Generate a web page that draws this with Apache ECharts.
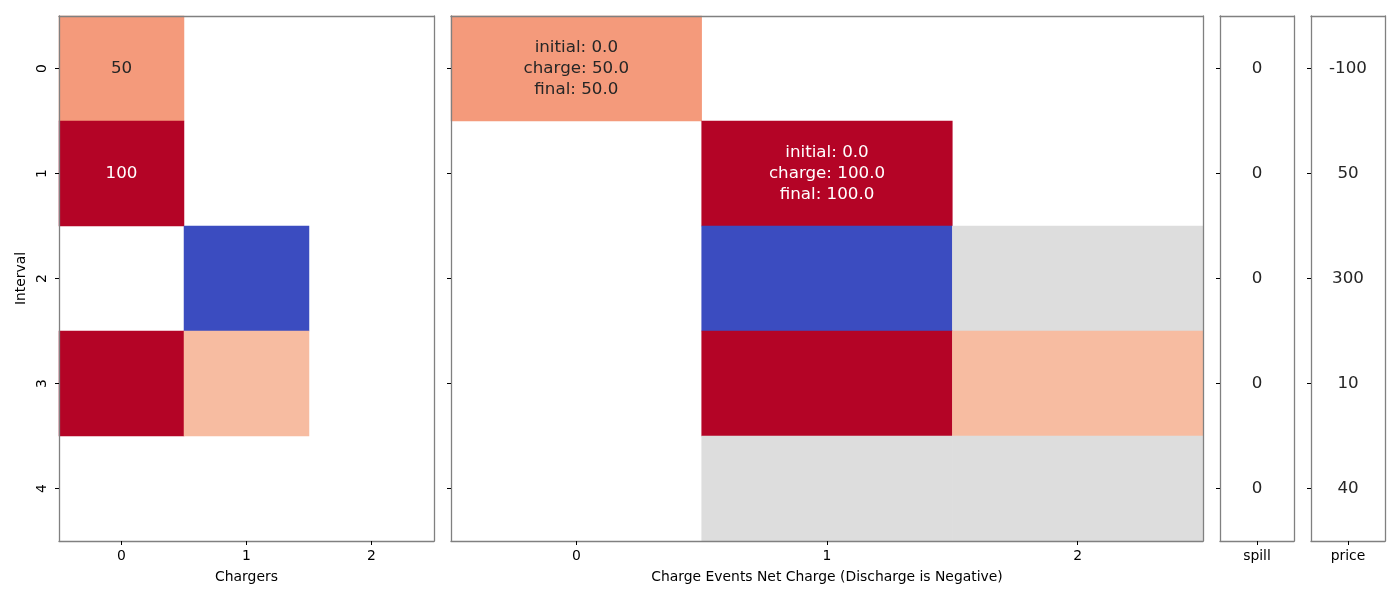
<!DOCTYPE html>
<html>
<head>
<meta charset="utf-8">
<script src="https://cdn.jsdelivr.net/npm/echarts@6/dist/echarts.min.js"></script>
<style>html,body{margin:0;padding:0;background:#fff}#c{width:1400px;height:600px}</style>
</head>
<body>
<div id="c"></div>
<script>
const chargerCats = ['0', '1', '2'];
const eventCats = ['0', '1', '2'];
const intervals = ['0', '1', '2', '3', '4'];
const chargerValues = [[0, 0, 50], [0, 1, 100], [1, 2, -100], [0, 3, 100], [1, 3, 25]];
const chargerLabels = ['50', '100', '', '', ''];
const eventValues = [[0, 0, 50], [1, 1, 100], [1, 2, -100], [2, 2, 0], [1, 3, 100], [2, 3, 25], [1, 4, 0], [2, 4, 0]];
const eventLabels = ['initial: 0.0\ncharge: 50.0\nfinal: 50.0', 'initial: 0.0\ncharge: 100.0\nfinal: 100.0', '', '', '', '', '', ''];
const spillValues = [0, 0, 0, 0, 0];
const priceValues = [-100, 50, 300, 10, 40];
const coolwarm = ['#3b4cc0', '#6788ee', '#9abbff', '#c9d7f0', '#dddddd', '#f7bca1', '#f49a7b', '#e0654f', '#b40426'];

const FONT = 'DejaVu Sans';
const TICK_FS = 13.9;
const grids = [
  { left: 59, top: 16, width: 375, height: 525 },
  { left: 451, top: 16, width: 752, height: 525 },
  { left: 1220, top: 16, width: 74, height: 525 },
  { left: 1311, top: 16, width: 74, height: 525 }
];
const xCats = [chargerCats, eventCats, ['spill'], ['price']];
const xNames = ['Chargers', 'Charge Events Net Charge (Discharge is Negative)', '', ''];

function txtColor(v) { return Math.abs(v) >= 75 ? '#ffffff' : '#262626'; }
function cells(vals, labels) {
  return vals.map((d, i) => ({
    value: d,
    label: { show: !!labels[i], formatter: labels[i], color: txtColor(d[2]) }
  }));
}
function colCells(vals) {
  return vals.map((v, i) => ({ value: [0, i, v], label: { show: true, formatter: String(v), color: '#262626' } }));
}

const xAxis = [], yAxis = [];
grids.forEach((g, i) => {
  xAxis.push({
    type: 'category', gridIndex: i, data: xCats[i], position: 'bottom', z: 10,
    name: xNames[i], nameLocation: 'middle', nameGap: 29,
    nameTextStyle: { fontFamily: FONT, fontSize: TICK_FS, color: '#000' },
    axisLine: { show: true, lineStyle: { color: '#808080', width: 1.3 } },
    axisTick: { show: true, alignWithLabel: true, length: 4, lineStyle: { color: '#000', width: 1 } },
    axisLabel: { fontFamily: FONT, fontSize: TICK_FS, color: '#000', margin: 8 },
    splitLine: { show: false }
  });
  xAxis.push({
    type: 'category', gridIndex: i, data: xCats[i], position: 'top', z: 10,
    axisLine: { show: true, lineStyle: { color: '#808080', width: 1.3 } },
    axisTick: { show: false }, axisLabel: { show: false }, splitLine: { show: false }
  });
  yAxis.push({
    type: 'category', gridIndex: i, data: intervals, inverse: true, position: 'left', z: 10,
    name: i === 0 ? 'Interval' : '', nameLocation: 'middle', nameGap: 31,
    nameTextStyle: { fontFamily: FONT, fontSize: TICK_FS, color: '#000' },
    axisLine: { show: true, lineStyle: { color: '#808080', width: 1.3 } },
    axisTick: { show: true, alignWithLabel: true, length: 4, lineStyle: { color: '#000', width: 1 } },
    axisLabel: { show: i === 0, rotate: 90, fontFamily: FONT, fontSize: TICK_FS, color: '#000', margin: 10 },
    splitLine: { show: false }
  });
  yAxis.push({
    type: 'category', gridIndex: i, data: intervals, inverse: true, position: 'right', z: 10,
    axisLine: { show: true, lineStyle: { color: '#808080', width: 1.3 } },
    axisTick: { show: false }, axisLabel: { show: false }, splitLine: { show: false }
  });
});

const labelBase = { fontFamily: FONT, fontSize: 16.7, lineHeight: 21 };
const option = {
  animation: false,
  backgroundColor: '#ffffff',
  grid: grids,
  xAxis: xAxis,
  yAxis: yAxis,
  visualMap: {
    type: 'continuous', show: false, min: -100, max: 100, dimension: 2,
    seriesIndex: [0, 1], inRange: { color: coolwarm }
  },
  series: [
    { type: 'heatmap', xAxisIndex: 0, yAxisIndex: 0, data: cells(chargerValues, chargerLabels), label: labelBase, emphasis: { disabled: true } },
    { type: 'heatmap', xAxisIndex: 2, yAxisIndex: 2, data: cells(eventValues, eventLabels), label: labelBase, emphasis: { disabled: true } },
    { type: 'heatmap', xAxisIndex: 4, yAxisIndex: 4, data: colCells(spillValues), itemStyle: { color: '#ffffff' }, label: labelBase, emphasis: { disabled: true } },
    { type: 'heatmap', xAxisIndex: 6, yAxisIndex: 6, data: colCells(priceValues), itemStyle: { color: '#ffffff' }, label: labelBase, emphasis: { disabled: true } }
  ]
};
const chart = echarts.init(document.getElementById('c'), null, { renderer: 'canvas' });
chart.setOption(option);
</script>
</body>
</html>
